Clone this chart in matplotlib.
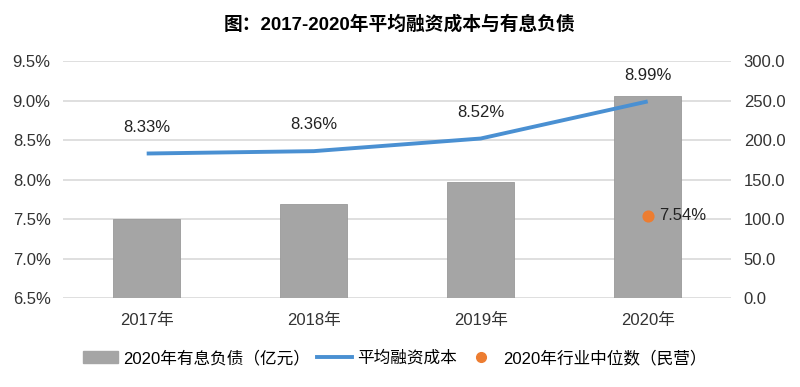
import matplotlib.pyplot as plt
from matplotlib.lines import Line2D
from matplotlib.patches import Patch
import numpy as np

plt.rcParams['font.family'] = ['Liberation Sans', 'Noto Sans CJK SC', 'DejaVu Sans']

# 数据
years = ['2017年', '2018年', '2019年', '2020年']
debt = [100.0, 119.0, 147.0, 256.0]          # 有息负债（亿元）
cost = [8.33, 8.36, 8.52, 8.99]              # 平均融资成本 %
median_2020 = 7.54                           # 2020年行业中位数（民营）

fig = plt.figure(figsize=(8, 3.87), dpi=100)
ax = fig.add_axes([0.079, 0.23, 0.835, 0.612])
ax2 = ax.twinx()

x = np.arange(len(years))

# 柱子画在右轴
ax2.bar(x, debt, width=0.4, color='#A5A5A5', edgecolor='#999999', linewidth=0.6, zorder=2)
ax2.set_ylim(0, 300)
ax2.set_yticks(np.arange(0, 301, 50))
ax2.set_yticklabels(['%.1f' % v for v in np.arange(0, 301, 50)])

# 左轴：网格线
ax.set_ylim(6.5, 9.5)
ax.set_yticks(np.arange(6.5, 9.51, 0.5))
ax.set_yticklabels(['%.1f%%' % v for v in np.arange(6.5, 9.51, 0.5)])
ax.set_xlim(-0.5, 3.5)
ax.set_xticks(x)
ax.set_xticklabels(years)
ax.grid(axis='y', color='#D9D9D9', linewidth=1.2)
ax.set_axisbelow(True)

# 折线、散点画在柱子之上
ax_top = fig.add_axes(ax.get_position(), sharex=ax, sharey=ax)
ax_top.patch.set_visible(False)
ax_top.axis('off')
ax_top.plot(x, cost, color='#4A90D2', linewidth=2.8, solid_capstyle='butt')
for xi, v in zip(x, cost):
    ax_top.annotate('%.2f%%' % v, (xi, v), xytext=(0, 19), textcoords='offset points',
                    ha='center', va='center', fontsize=12, color='#222222')
ax_top.scatter([3], [median_2020], s=60, color='#ED7D31', zorder=5)
ax_top.annotate('%.2f%%' % median_2020, (3, median_2020), xytext=(8, 0), textcoords='offset points',
                ha='left', va='center', fontsize=12, color='#222222')

for a in (ax, ax2):
    for s in a.spines.values():
        s.set_visible(False)
    a.tick_params(length=0, labelsize=12, colors='#333333')
ax.tick_params(axis='y', pad=9)
ax2.tick_params(axis='y', pad=9)
ax.tick_params(axis='x', pad=11)

fig.suptitle('图：2017-2020年平均融资成本与有息负债', x=0.5, y=0.96, fontsize=13.5, fontweight='bold')

handles = [Patch(color='#A5A5A5'),
           Line2D([0], [0], color='#4A90D2', linewidth=2.8),
           Line2D([0], [0], marker='o', color='none', markerfacecolor='#ED7D31',
                  markeredgecolor='#ED7D31', markersize=7)]
labels = ['2020年有息负债（亿元）', '平均融资成本', '2020年行业中位数（民营）']
fig.legend(handles, labels, loc='center', bbox_to_anchor=(0.494, 0.075), ncol=3, frameon=False,
           fontsize=12, handlelength=2.1, columnspacing=0.4, handletextpad=0.3)

fig.savefig('out.png', dpi=100, facecolor='white')
